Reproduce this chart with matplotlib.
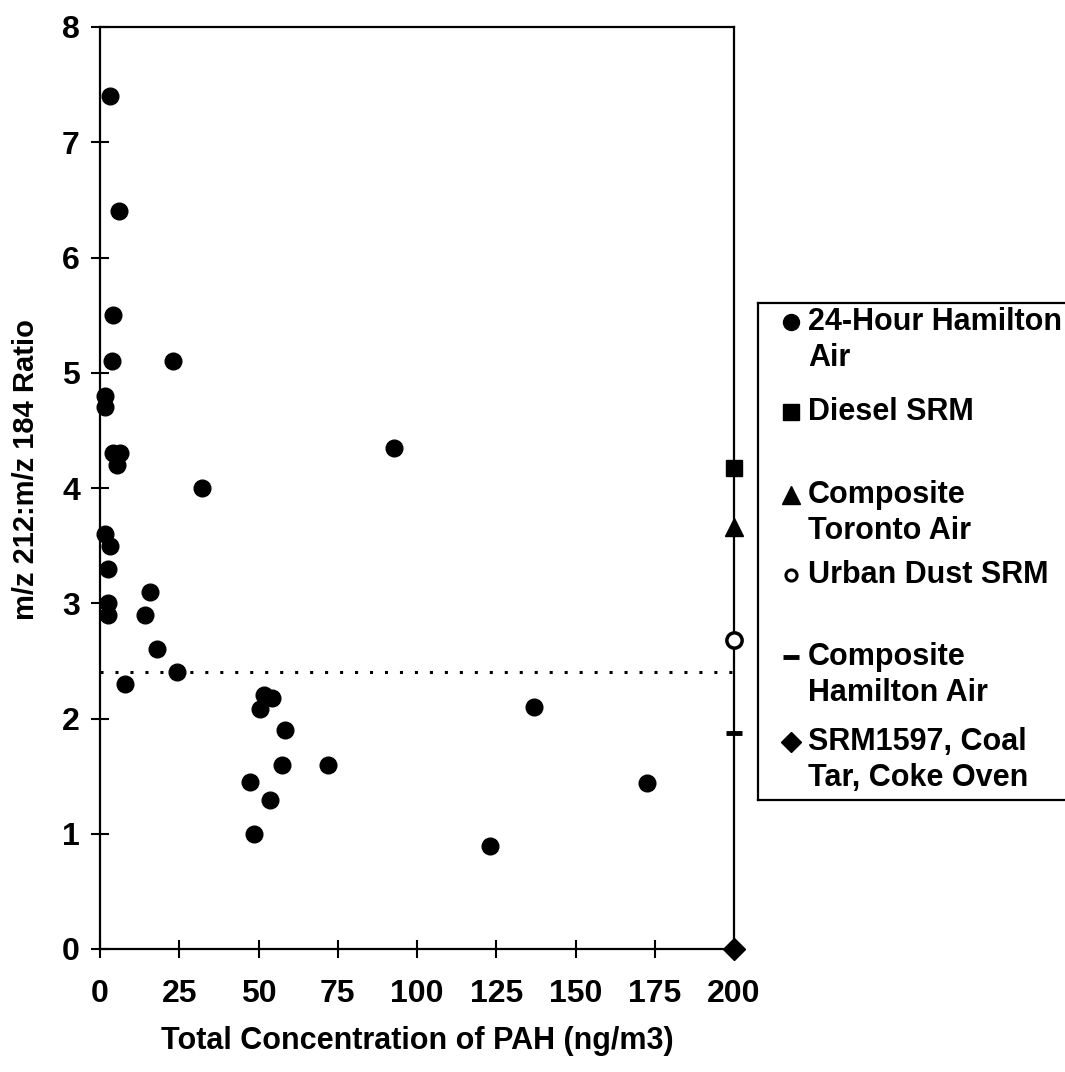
import matplotlib
matplotlib.use("Agg")
import matplotlib.pyplot as plt

# 24-hour Hamilton air samples
hamilton_x = [3.2, 6.0, 4.1, 3.8, 23.1, 1.6, 1.6, 4.1, 6.3, 5.4, 32.3,
              1.6, 3.2, 2.5, 2.5, 2.5, 15.8, 14.2, 18.0, 24.4, 7.9,
              51.8, 54.3, 50.6, 58.3, 57.4, 71.9, 47.3, 53.7, 48.5,
              92.7, 136.8, 172.4, 123.0]
hamilton_y = [7.4, 6.4, 5.5, 5.1, 5.1, 4.8, 4.7, 4.3, 4.3, 4.2, 4.0,
              3.6, 3.5, 3.3, 3.0, 2.9, 3.1, 2.9, 2.6, 2.4, 2.3,
              2.2, 2.18, 2.08, 1.9, 1.6, 1.6, 1.45, 1.29, 1.0,
              4.35, 2.1, 1.44, 0.89]

# reference materials, plotted at the right edge
ref_x = 200
diesel_y = 4.17
toronto_y = 3.66
urban_dust_y = 2.68
composite_hamilton_y = 1.87
srm1597_y = 0.0

threshold_x = [0, 200]
threshold_y = [2.4, 2.4]

x_ticks = [0, 25, 50, 75, 100, 125, 150, 175, 200]
y_ticks = [0, 1, 2, 3, 4, 5, 6, 7, 8]

legend_labels = [
    "24-Hour Hamilton\nAir",
    "Diesel SRM",
    "Composite\nToronto Air",
    "Urban Dust SRM",
    "Composite\nHamilton Air",
    "SRM1597, Coal\nTar, Coke Oven",
]

plt.rcParams["font.family"] = ["Liberation Sans", "DejaVu Sans"]
plt.rcParams["font.weight"] = "bold"

W, H = 1065, 1072
fig = plt.figure(figsize=(W / 100, H / 100), dpi=100)
ax = fig.add_axes([100 / W, 1 - 949 / H, 634 / W, 922 / H])

ax.plot(threshold_x, threshold_y, color="black", lw=2.2,
        linestyle=(0, (1, 3.9)), clip_on=False)
ax.plot(hamilton_x, hamilton_y, "o", color="black", ms=12, clip_on=False)

# right-hand reference line runs through the SRM markers
ax.plot(ref_x, diesel_y, "s", color="black", ms=12, clip_on=False, zorder=5)
ax.plot(ref_x, toronto_y, "^", color="black", ms=13, clip_on=False, zorder=5)
ax.plot(ref_x, urban_dust_y, "o", mfc="white", mec="black", mew=2.5, ms=11,
        clip_on=False, zorder=5)
ax.plot(ref_x, composite_hamilton_y, "_", color="black", mew=3.5, ms=12,
        clip_on=False, zorder=5)
ax.plot(ref_x, srm1597_y, "D", color="black", ms=11, clip_on=False, zorder=5)

ax.set_xlim(0, 200)
ax.set_ylim(0, 8)
ax.set_xticks(x_ticks)
ax.set_yticks(y_ticks)
for side in ["left", "right", "top", "bottom"]:
    ax.spines[side].set_linewidth(1.6)
ax.tick_params(direction="inout", length=13, width=1.5, labelsize=23)
ax.tick_params(axis="x", pad=15)
ax.tick_params(axis="y", pad=8)

ax.set_xlabel("Total Concentration of PAH (ng/m3)", fontsize=22, fontweight="bold")
ax.xaxis.set_label_coords(0.5, -0.084)
ax.set_ylabel("m/z 212:m/z 184 Ratio", fontsize=21, fontweight="bold")
ax.yaxis.set_label_coords(-0.095, 0.52)

# legend drawn by hand so markers sit on the first line of each entry
lax = fig.add_axes([758 / W, 1 - 800 / H, 330 / W, 497 / H])
lax.set_xlim(758, 1088)
lax.set_ylim(800, 303)
lax.set_xticks([])
lax.set_yticks([])
lax.patch.set_alpha(0)
lax.spines["right"].set_visible(False)
for side in ["left", "top", "bottom"]:
    lax.spines[side].set_linewidth(1.6)

entry_y = [322, 412, 495, 575, 657, 742]
line_gap = 36
marker_x = 791
text_x = 808
lax.plot(marker_x, entry_y[0], "o", color="black", ms=11.5)
lax.plot(marker_x, entry_y[1], "s", color="black", ms=12)
lax.plot(marker_x, entry_y[2], "^", color="black", ms=13)
lax.plot(marker_x, entry_y[3], "o", mfc="white", mec="black", mew=2.2, ms=8)
lax.plot(marker_x, entry_y[4], "_", color="black", mew=3.5, ms=12)
lax.plot(marker_x, entry_y[5], "D", color="black", ms=10)
for y0, label in zip(entry_y, legend_labels):
    for i, line in enumerate(label.split("\n")):
        lax.text(text_x, y0 + i * line_gap, line, fontsize=22, fontweight="bold",
                 va="center", ha="left")

fig.savefig("out.png", dpi=100)
